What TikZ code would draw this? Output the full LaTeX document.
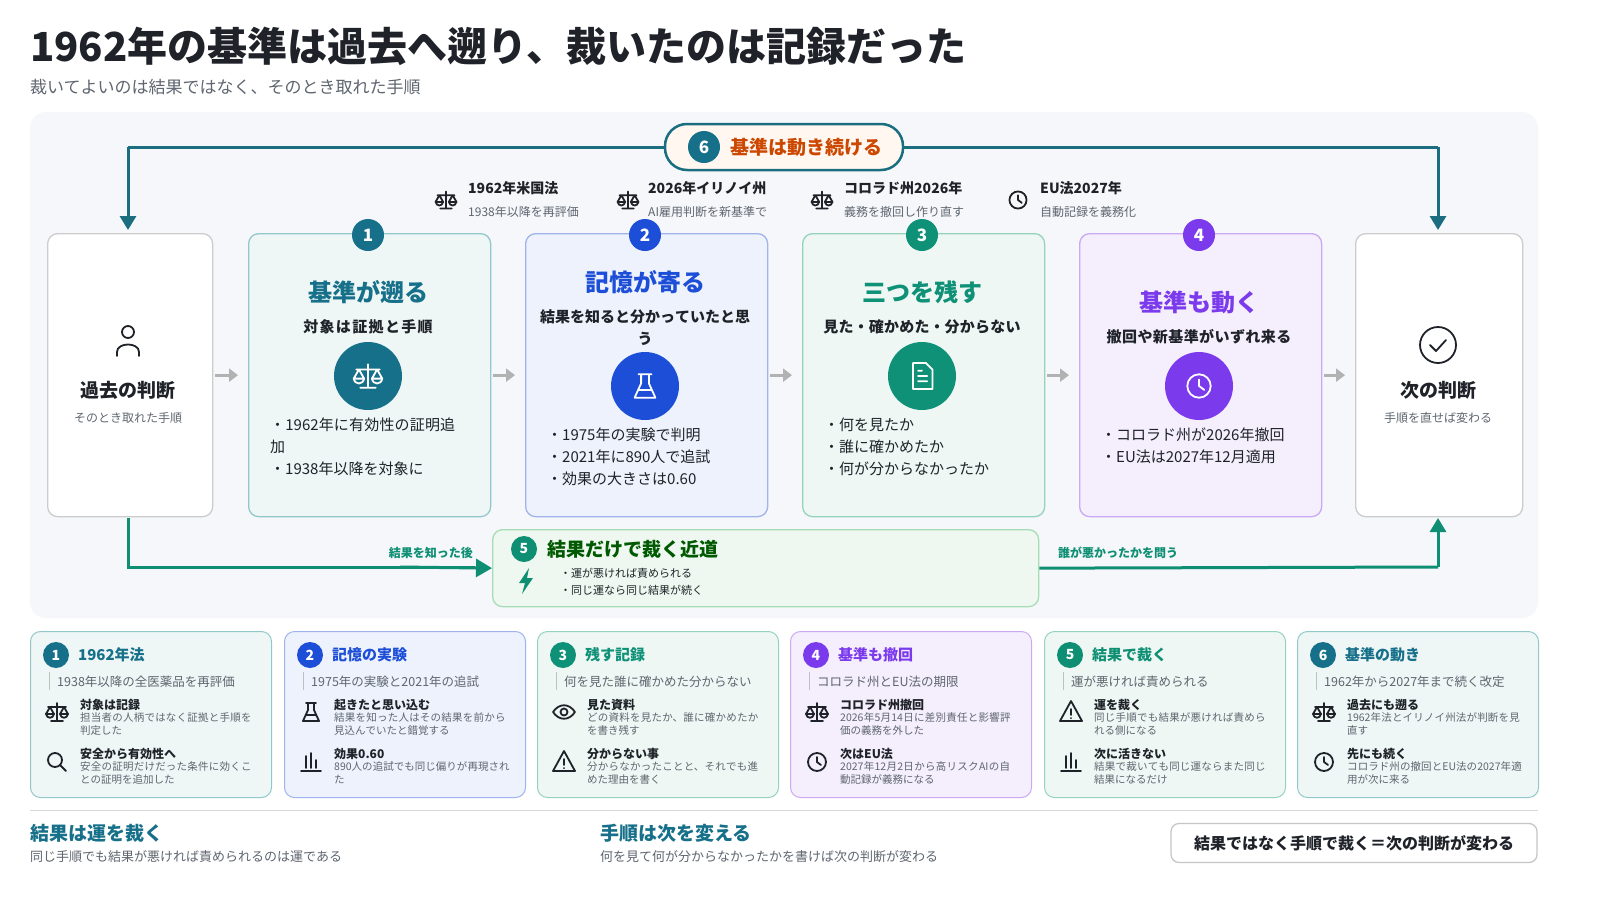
\documentclass[tikz,border=0pt]{standalone}
\usepackage{fontspec}
\setmainfont{Noto Sans CJK JP}
\XeTeXlinebreaklocale "ja"
\XeTeXlinebreakskip=0pt plus 1pt
\usetikzlibrary{arrows.meta}
\definecolor{cA}{HTML}{17708A}\definecolor{cB}{HTML}{1D4ED8}\definecolor{cC}{HTML}{0F9178}
\definecolor{cD}{HTML}{7C3AED}\definecolor{cE}{HTML}{0E8F73}\definecolor{cF}{HTML}{17708A}
\definecolor{fA}{HTML}{EEF6F6}\definecolor{fB}{HTML}{EEF2FC}\definecolor{fC}{HTML}{EEF7F3}
\definecolor{fD}{HTML}{F4EEFD}\definecolor{fE}{HTML}{EEF8F0}
\definecolor{bA}{HTML}{93C8CB}\definecolor{bB}{HTML}{9FB3EC}\definecolor{bC}{HTML}{96D3BD}
\definecolor{bD}{HTML}{CBA9F3}\definecolor{bE}{HTML}{A6DDB5}
\definecolor{ink}{HTML}{1F2329}\definecolor{gry}{HTML}{5F6670}\definecolor{lp}{HTML}{1A6E80}
\definecolor{panel}{HTML}{F5F7FA}
\newcommand{\fs}[1]{\fontsize{#1}{#1}\selectfont}
\tikzset{x=1pt,y=-1pt,
 ic/.style={line width=1.8pt,line cap=round,line join=round},
 txt/.style={anchor=base west,inner sep=0pt},
 box/.style={rounded corners=10pt,line width=1.3pt},
 pics/scl/.style={code={\draw[ic,pic actions] (0,-9)--(0,9) (-6,9)--(6,9) (-9,-5)--(9,-5) (-11,2)--(-7,-5)--(-3,2) (3,2)--(7,-5)--(11,2) (-11,2)--(-3,2) (3,2)--(11,2);
   \draw[ic,pic actions] (-11,2) .. controls (-10,7) and (-4,7) .. (-3,2) (3,2) .. controls (4,7) and (10,7) .. (11,2);}},
 pics/clk/.style={code={\draw[ic,pic actions] (0,0) circle (9) (0,-5)--(0,0)--(4,3);}},
 pics/doc/.style={code={\draw[ic,pic actions] (-7,-10)--(3,-10)--(8,-5)--(8,10)--(-7,10)--cycle (-3,0)--(4,0) (-3,4)--(4,4) (-3,-4)--(0,-4);}},
 pics/flask/.style={code={\draw[ic,pic actions] (-3,-9)--(-3,-2)--(-8,9)--(8,9)--(3,-2)--(3,-9) (-5,-9)--(5,-9) (-5,3)--(5,3);}},
 pics/person/.style={code={\draw[ic,pic actions] (0,-8) circle (6) (-11,16)--(-11,12) .. controls (-11,2) and (11,2) .. (11,12)--(11,16);}},
 pics/chk/.style={code={\draw[ic,pic actions] (0,0) circle (18) (-8,0)--(-2,6)--(8,-5);}},
 pics/eye/.style={code={\draw[ic,pic actions] (-11,0) .. controls (-5,-9) and (5,-9) .. (11,0) .. controls (5,9) and (-5,9) .. (-11,0) (0,0) circle (3.5);}},
 pics/warn/.style={code={\draw[ic,pic actions] (0,-11)--(11,9)--(-11,9)--cycle (0,-3)--(0,3) (0,6)--(0,6.3);}},
 pics/srch/.style={code={\draw[ic,pic actions] (-2,-2) circle (7) (3,3)--(9,9);}},
 pics/bars/.style={code={\draw[ic,pic actions] (-10,9)--(10,9) (-5,6)--(-5,-6) (0,6)--(0,-9) (5,6)--(5,-2);}},
 pics/bolt/.style={code={\fill[pic actions] (3,-13)--(-7,2)--(-1,2)--(-4,13)--(7,-3)--(1,-3)--cycle;}},
}
\newcommand{\card}[9]{% x, n, color, fill, border, title, sub, icon1, icon2
 \node[box,draw=#5,fill=#4,minimum width=241,minimum height=166,anchor=north west,line width=1pt] (card#2) at (#1,631) {};
 \node[circle,fill=#3,minimum size=26,inner sep=0pt,text=white,font=\fs{14}\bfseries] (cn#2) at (#1+26,655) {#2};
 \node[txt,text=#3,font=\fs{15}\bfseries] (ct#2) at (#1+48,660) {#6};
 \draw[gray!50,line width=1pt] (#1+19,672)--(#1+19,690);
 \node[txt,text=gry,font=\fs{12.5}] (cs#2) at (#1+27,686) {#7};
 \pic[draw=ink] at (#1+27,712) {#8};
 \pic[draw=ink] at (#1+27,762) {#9};
}
\newcommand{\citem}[5]{% x y title desc name
 \node[txt,font=\fs{12}\bfseries,text=ink] (#5t) at (#1,#2) {#3};
 \node[anchor=north west,inner sep=0pt,text width=176pt,font=\fontsize{10.5}{13}\selectfont,text=gry] (#5d) at (#1,#2+3) {#4};
}
\newcommand{\bx}[9]{% cx, col, n, title, ty, sub, icy, icon, bullets
 \node[circle,fill=#2,minimum size=32,inner sep=0pt,text=white,font=\fs{17}\bfseries] at (#1,235) {#3};
 \node[font=\fs{24}\bfseries,text=#2] at (#1,#5) {#4};
 \node[font=\fontsize{15}{22}\selectfont\bfseries,text=ink,align=center,text width=210pt,anchor=north] at (#1,#5+24) {#6};
 \node[circle,fill=#2,minimum size=68] at (#1,#7) {};
 \pic[draw=white,scale=1.3] at (#1,#7) {#8};
 #9}
\begin{document}
\begin{tikzpicture}
\fill[white] (0,0) rectangle (1600,900);
\node[txt,font=\fs{40}\bfseries,text=ink] (title) at (30,61) {1962年の基準は過去へ遡り、裁いたのは記録だった};
\node[txt,font=\fs{17},text=gry] (sub) at (30,93) {裁いてよいのは結果ではなく、そのとき取れた手順};
\fill[panel,rounded corners=16pt] (30,112) rectangle (1538,618);
% top loop
\coordinate (tl) at (128,147);\coordinate (tr) at (1438,147);
\draw[lp,line width=3pt] (128,147)--(1438,147);
\draw[lp,line width=3pt,-{Triangle[length=14pt,width=16pt]}] (tl)--(128,230);
\draw[lp,line width=3pt,-{Triangle[length=14pt,width=16pt]}] (tr)--(1438,230);
\node[draw=lp,fill=orange!6,line width=2.5pt,rounded corners=22pt,minimum width=238,minimum height=46] (pill) at (784,147) {};
\node[circle,fill=cA,minimum size=32,inner sep=0pt,text=white,font=\fs{17}\bfseries] (p6) at (704,147) {6};
\node[txt,text=orange!70!red!80!black,font=\fs{19}\bfseries] (ptx) at (730,154) {基準は動き続ける};
% sources
\foreach \ix/\tx/\a/\b/\ic in {446/468/1962年米国法/1938年以降を再評価/scl, 628/648/2026年イリノイ州/AI雇用判断を新基準で/scl, 822/844/コロラド州2026年/義務を撤回し作り直す/scl, 1018/1040/EU法2027年/自動記録を義務化/clk}{
 \pic[draw=ink,scale=0.95] at (\ix,200) {\ic};
 \node[txt,font=\fs{14}\bfseries,text=ink] at (\tx,193) {\a};
 \node[txt,font=\fs{12},text=gry] at (\tx,216) {\b};
}
% boxes
\node[box,draw=gray!40,fill=white,anchor=north west,minimum width=165,minimum height=283] (past) at (47,233) {};
\node[box,draw=bA,fill=fA,anchor=north west,minimum width=242,minimum height=283] (b1) at (248,233) {};
\node[box,draw=bB,fill=fB,anchor=north west,minimum width=242,minimum height=283] (b2) at (525,233) {};
\node[box,draw=bC,fill=fC,anchor=north west,minimum width=242,minimum height=283] (b3) at (802,233) {};
\node[box,draw=bD,fill=fD,anchor=north west,minimum width=242,minimum height=283] (b4) at (1079,233) {};
\node[box,draw=gray!40,fill=white,anchor=north west,minimum width=167,minimum height=283] (next) at (1355,233) {};
\foreach \a/\b in {past/b1,b1/b2,b2/b3,b3/b4,b4/next}{
 \draw[gray!60,line width=3pt,-{Triangle[length=9pt,width=13pt]}] ([xshift=2pt]\a.east)--([xshift=-10pt]\b.west);}
\pic[draw=ink] at (128,340) {person};
\node[font=\fs{19}\bfseries,text=ink] (pt) at (128,390) {過去の判断};
\node[font=\fs{12},text=gry] (ps) at (128,418) {そのとき取れた手順};
\pic[draw=ink] at (1438,345) {chk};
\node[font=\fs{19}\bfseries,text=ink] (nt) at (1438,390) {次の判断};
\node[font=\fs{12},text=gry] (ns) at (1438,418) {手順を直せば変わる};
\bx{368}{cA}{1}{基準が遡る}{292}{対象は証拠と手順}{376}{scl}{
 \node[anchor=north west,text width=190pt,font=\fs{15}\linespread{1.45}\selectfont,text=ink,inner sep=0pt] at (270,418) {・1962年に有効性の証明追加\\・1938年以降を対象に};}
\bx{645}{cB}{2}{記憶が寄る}{282}{結果を知ると分かっていたと思\\う}{386}{flask}{
 \node[anchor=north west,text width=200pt,font=\fs{15}\linespread{1.45}\selectfont,text=ink,inner sep=0pt] at (547,428) {・1975年の実験で判明\\・2021年に890人で追試\\・効果の大きさは0.60};}
\bx{922}{cC}{3}{三つを残す}{292}{見た・確かめた・分からない}{376}{doc}{
 \node[anchor=north west,text width=200pt,font=\fs{15}\linespread{1.45}\selectfont,text=ink,inner sep=0pt] at (824,418) {・何を見たか\\・誰に確かめたか\\・何が分からなかったか};}
\bx{1199}{cD}{4}{基準も動く}{302}{撤回や新基準がいずれ来る}{386}{clk}{
 \node[anchor=north west,text width=200pt,font=\fs{15}\linespread{1.45}\selectfont,text=ink,inner sep=0pt] at (1101,428) {・コロラド州が2026年撤回\\・EU法は2027年12月適用};}
% bottom loop
\node[box,draw=bE,fill=fE,anchor=north west,minimum width=546,minimum height=77] (b5) at (492,529) {};
\draw[cE,line width=3pt] (128,518)--(128,567)--(475,567);
\draw[cE,line width=3pt,-{Triangle[length=16pt,width=18pt]}] (400,567)--(b5.west);
\draw[cE,line width=3pt] (b5.east)--(1438,567);
\draw[cE,line width=3pt,-{Triangle[length=14pt,width=16pt]}] (1438,567)--(1438,518);
\node[anchor=base east,inner sep=0pt,font=\fs{12}\bfseries,text=cE] (l1) at (473,557) {結果を知った後};
\node[txt,font=\fs{12}\bfseries,text=cE] (l2) at (1058,557) {誰が悪かったかを問う};
\node[circle,fill=cE,minimum size=26,inner sep=0pt,text=white,font=\fs{14}\bfseries] (n5) at (524,549) {5};
\node[txt,font=\fs{19}\bfseries,text=green!35!black] (t5) at (547,556) {結果だけで裁く近道};
\pic[fill=cE] at (526,581) {bolt};
\node[txt,font=\fs{11},text=ink] at (560,577) {・運が悪ければ責められる};
\node[txt,font=\fs{11},text=ink] at (560,594) {・同じ運なら同じ結果が続く};
% bottom cards
\card{30}{1}{cA}{fA}{bA}{1962年法}{1938年以降の全医薬品を再評価}{scl}{srch}
\citem{80}{709}{対象は記録}{担当者の人柄ではなく証拠と手順を判定した}{i1a}
\citem{80}{758}{安全から有効性へ}{安全の証明だけだった条件に効くことの証明を追加した}{i1b}
\card{284}{2}{cB}{fB}{bB}{記憶の実験}{1975年の実験と2021年の追試}{flask}{bars}
\citem{334}{709}{起きたと思い込む}{結果を知った人はその結果を前から見込んでいたと錯覚する}{i2a}
\citem{334}{758}{効果0.60}{890人の追試でも同じ偏りが再現された}{i2b}
\card{537}{3}{cC}{fC}{bC}{残す記録}{何を見た誰に確かめた分からない}{eye}{warn}
\citem{587}{709}{見た資料}{どの資料を見たか、誰に確かめたかを書き残す}{i3a}
\citem{587}{758}{分からない事}{分からなかったことと、それでも進めた理由を書く}{i3b}
\card{790}{4}{cD}{fD}{bD}{基準も撤回}{コロラド州とEU法の期限}{scl}{clk}
\citem{840}{709}{コロラド州撤回}{2026年5月14日に差別責任と影響評価の義務を外した}{i4a}
\citem{840}{758}{次はEU法}{2027年12月2日から高リスクAIの自動記録が義務になる}{i4b}
\card{1044}{5}{cE}{fC}{bC}{結果で裁く}{運が悪ければ責められる}{warn}{bars}
\citem{1094}{709}{運を裁く}{同じ手順でも結果が悪ければ責められる側になる}{i5a}
\citem{1094}{758}{次に活きない}{結果で裁いても同じ運ならまた同じ結果になるだけ}{i5b}
\card{1297}{6}{cF}{fA}{bA}{基準の動き}{1962年から2027年まで続く改定}{scl}{clk}
\citem{1347}{709}{過去にも遡る}{1962年法とイリノイ州法が判断を見直す}{i6a}
\citem{1347}{758}{先にも続く}{コロラド州の撤回とEU法の2027年適用が次に来る}{i6b}
% footer
\draw[gray!30,line width=1pt] (30,810)--(1538,810);
\node[txt,font=\fs{19}\bfseries,text=cA] (f1) at (30,840) {結果は運を裁く};
\node[txt,font=\fs{13},text=gry] (f1s) at (30,861) {同じ手順でも結果が悪ければ責められるのは運である};
\node[txt,font=\fs{19}\bfseries,text=cA] (f2) at (600,840) {手順は次を変える};
\node[txt,font=\fs{13},text=gry] (f2s) at (600,861) {何を見て何が分からなかったかを書けば次の判断が変わる};
\node[draw=gray!45,line width=1.3pt,rounded corners=8pt,minimum width=366,minimum height=39,font=\fs{16}\bfseries,text=ink] (fb) at (1354,843) {結果ではなく手順で裁く＝次の判断が変わる};
\pgfresetboundingbox
\path[use as bounding box] (0,0) rectangle (1600,900);
\end{tikzpicture}
\end{document}
